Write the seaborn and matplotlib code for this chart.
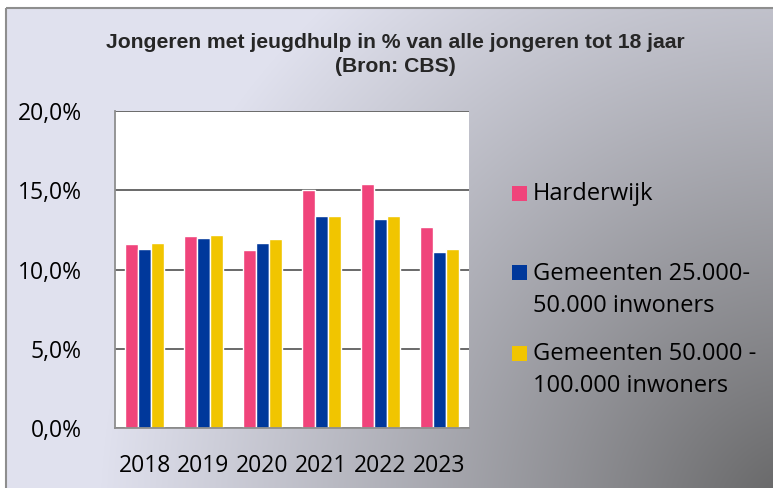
import numpy as np
import pandas as pd
import matplotlib
matplotlib.use("Agg")
import matplotlib.pyplot as plt
from matplotlib.patches import Rectangle
from matplotlib.ticker import FuncFormatter, MultipleLocator
import seaborn as sns

# Share of young people (<18) receiving youth care, in %
years = ["2018", "2019", "2020", "2021", "2022", "2023"]
series_names = [
    "Harderwijk",
    "Gemeenten 25.000-\n50.000 inwoners",
    "Gemeenten 50.000 -\n100.000 inwoners",
]
harderwijk = [11.6, 12.1, 11.2, 15.0, 15.4, 12.7]
gem_25_50k = [11.3, 12.0, 11.7, 13.4, 13.2, 11.1]
gem_50_100k = [11.7, 12.2, 11.9, 13.4, 13.4, 11.3]
colors = ["#f0447b", "#00389b", "#f1c500"]

df = pd.DataFrame({
    "jaar": years * 3,
    "reeks": [series_names[0]] * 6 + [series_names[1]] * 6 + [series_names[2]] * 6,
    "waarde": harderwijk + gem_25_50k + gem_50_100k,
})

sns.set_theme(style="white")
plt.rcParams["font.family"] = ["Open Sans", "DejaVu Sans"]

W, H = 773, 488
fig = plt.figure(figsize=(W / 100, H / 100), dpi=100, facecolor="white")

# Gradient backdrop inside the chart frame
bg = fig.add_axes([0, 0, 1, 1], zorder=-10)
bg.set_xlim(0, W)
bg.set_ylim(H, 0)
bg.axis("off")
xx, yy = np.meshgrid(np.arange(W), np.arange(H))
d = np.hypot(xx - 800, yy - 520)
t = np.clip(d / 700.0, 0, 1) ** 0.9
dark = np.array([0x60, 0x60, 0x60]) / 255
light = np.array([0xe0, 0xe1, 0xee]) / 255
img = dark[None, None, :] * (1 - t[..., None]) + light[None, None, :] * t[..., None]
x0, y0 = 6, 8
img[:y0, :, :] = 1.0
img[:, :x0, :] = 1.0
bg.imshow(img, extent=(0, W, H, 0), interpolation="bilinear", aspect="auto")
bg.add_patch(Rectangle((x0, y0), W, H, fill=False, edgecolor="#8e8e8e", lw=1.5))

# Plot area
left, right, top, bottom = 115, 469, 111, 428
ax = fig.add_axes([left / W, 1 - bottom / H, (right - left) / W, (bottom - top) / H])
ax.set_facecolor("white")

sns.barplot(data=df, x="jaar", y="waarde", hue="reeks", palette=colors,
            width=0.66, gap=0, saturation=1, ax=ax, legend=False)

ax.set_ylim(0, 20)
ax.set_xlim(-0.5, 5.5)
ax.yaxis.set_major_locator(MultipleLocator(5))
ax.yaxis.set_major_formatter(FuncFormatter(lambda v, _: f"{v:.1f}%".replace(".", ",")))
ax.set_xlabel("")
ax.set_ylabel("")
ax.grid(axis="y", color="#5e5e5e", lw=1.3, zorder=0)
ax.set_axisbelow(True)
for s in ["top", "right"]:
    ax.spines[s].set_visible(False)
for s in ["left", "bottom"]:
    ax.spines[s].set_color("#8e8e8e")
    ax.spines[s].set_linewidth(1.3)

# Category labels centred, tick marks on category boundaries
ax.set_xticks(range(len(years)))
ax.set_xticklabels(years)
ax.tick_params(axis="x", length=0, pad=19, labelsize=16.5, labelcolor="black")
ax.set_xticks(np.arange(-0.5, 6.0, 1.0), minor=True)
ax.tick_params(axis="x", which="minor", length=8, width=1.3, color="#8e8e8e", direction="out")
ax.tick_params(axis="y", length=8, width=1.3, color="#8e8e8e", direction="out",
               pad=16, labelsize=16.5, labelcolor="black")

# Legend on the right: colour square plus (wrapped) series name
legend_rows = [(193, [200]), (272, [280, 312]), (353, [360, 392])]
for name, col, (sq_y, baselines) in zip(series_names, colors, legend_rows):
    fig.patches.append(Rectangle(((512) / W, 1 - (sq_y + 7.5) / H), 15 / W, 15 / H,
                                 transform=fig.transFigure, facecolor=col,
                                 edgecolor="none", figure=fig))
    for line, yb in zip(name.split("\n"), baselines):
        fig.text(533 / W, 1 - yb / H, line, ha="left", va="baseline",
                 fontsize=17, color="black")

fig.text(395 / W, 1 - 48 / H, "Jongeren met jeugdhulp in % van alle jongeren tot 18 jaar",
         ha="center", va="baseline", fontsize=15.2, fontweight="bold",
         family=["Liberation Sans", "DejaVu Sans"])
fig.text(395 / W, 1 - 72 / H, "(Bron: CBS)", ha="center", va="baseline", fontsize=15.2,
         fontweight="bold", family=["Liberation Sans", "DejaVu Sans"])

fig.savefig("out.png", dpi=100, facecolor="white")
